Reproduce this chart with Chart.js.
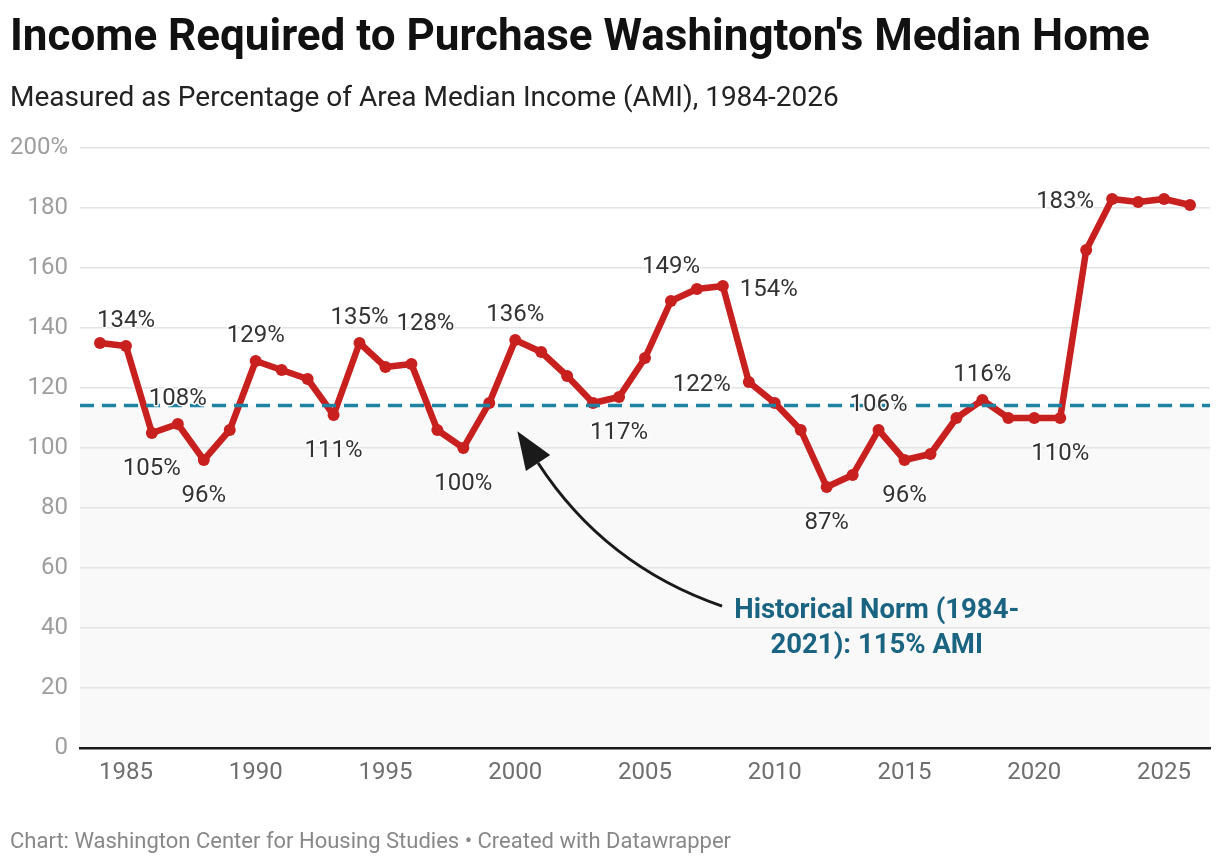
<!DOCTYPE html>
<html lang="en">
<head>
  <meta charset="UTF-8">
  <title>Income Required to Purchase Washington's Median Home</title>
  <style>
    body {
      margin: 0;
      background: #fff;
      font-family: Roboto, sans-serif;
    }
    .wrap {
      position: relative;
      width: 1220px;
      height: 864px;
    }
    #chart {
      position: absolute;
      left: 0;
      top: 0;
    }
    .title {
      position: absolute;
      left: 10px;
      top: 10px;
      font-size: 44px;
      line-height: 50px;
      font-weight: 700;
      color: #111;
      white-space: nowrap;
    }
    .subtitle {
      position: absolute;
      left: 10px;
      top: 81px;
      font-size: 28px;
      line-height: 32px;
      color: #222;
      white-space: nowrap;
    }
    .footer {
      position: absolute;
      left: 10px;
      top: 828px;
      font-size: 22px;
      line-height: 26px;
      color: #888;
      white-space: nowrap;
    }
  </style>
</head>
<body>
  <div class="wrap">
    <canvas id="chart" width="1220" height="864"></canvas>
    <div class="title">Income Required to Purchase Washington's Median Home</div>
    <div class="subtitle">Measured as Percentage of Area Median Income (AMI), 1984-2026</div>
    <div class="footer">Chart: Washington Center for Housing Studies • Created with Datawrapper</div>
  </div>

  <script src="https://cdn.jsdelivr.net/npm/chart.js"></script>
  <script>
    // data
    const years = [
      1984, 1985, 1986, 1987, 1988, 1989, 1990, 1991, 1992, 1993,
      1994, 1995, 1996, 1997, 1998, 1999, 2000, 2001, 2002, 2003,
      2004, 2005, 2006, 2007, 2008, 2009, 2010, 2011, 2012, 2013,
      2014, 2015, 2016, 2017, 2018, 2019, 2020, 2021, 2022, 2023,
      2024, 2025, 2026
    ];
    const incomePct = [
      135, 134, 105, 108, 96, 106, 129, 126, 123, 111,
      135, 127, 128, 106, 100, 115, 136, 132, 124, 115,
      117, 130, 149, 153, 154, 122, 115, 106, 87, 91,
      106, 96, 98, 110, 116, 110, 110, 110, 166, 183,
      182, 183, 181
    ];
    const xTickYears = [1985, 1990, 1995, 2000, 2005, 2010, 2015, 2020, 2025];
    const yTickValues = [0, 20, 40, 60, 80, 100, 120, 140, 160, 180, 200];
    const labelledYears = [
      1985, 1986, 1987, 1988, 1990, 1993, 1994, 1996, 1998, 2000,
      2004, 2006, 2008, 2009, 2012, 2014, 2015, 2018, 2021, 2023
    ];
    const normPct = 114.2;
    const noteLines = ['Historical Norm (1984-', '2021): 115% AMI'];

    // where each value label sits relative to its point (px)
    const labelPlace = {
      1985: 'above', 1986: 'below', 1987: 'above', 1988: 'below', 1990: 'above',
      1993: 'below', 1994: 'above', 1996: 'aboveRight', 1998: 'below', 2000: 'above',
      2004: 'below', 2006: 'high', 2008: 'right', 2009: 'left', 2012: 'below',
      2014: 'above', 2015: 'below', 2018: 'above', 2021: 'below', 2023: 'left'
    };
    const placeOffset = {
      above: [0, -28], below: [0, 33], left: [-47, 0], right: [46, 1],
      high: [0, -37], aboveRight: [14, -43]
    };

    // annotation anchors in data units (year, %)
    const notePos = { x: 2013.93, y: 43.3 };
    const arrowStart = { x: 2007.97, y: 47.3 };
    const arrowCtrl = { x: 2003.46, y: 60.7 };
    const arrowEnd = { x: 2000.88, y: 95.0 };

    const RED = '#c8201f';
    const TEAL = '#1f84a3';
    const NOTE = '#1a6482';

    const decor = {
      id: 'decor',
      beforeDraw(chart) {
        const { ctx, chartArea: a, scales: { y } } = chart;
        const top = y.getPixelForValue(normPct);
        const bottom = y.getPixelForValue(0);
        ctx.save();
        ctx.fillStyle = '#f9f9f9';
        ctx.fillRect(a.left, top, a.right - a.left, bottom - top);
        ctx.restore();
      },
      afterDatasetsDraw(chart) {
        const { ctx, chartArea: a, scales: { x, y } } = chart;
        ctx.save();

        // dashed norm line
        const ny = y.getPixelForValue(normPct);
        ctx.strokeStyle = TEAL;
        ctx.lineWidth = 3.5;
        ctx.setLineDash([14, 8]);
        ctx.beginPath();
        ctx.moveTo(a.left, ny);
        ctx.lineTo(a.right, ny);
        ctx.stroke();
        ctx.setLineDash([]);

        // value labels
        const fs = 24;
        ctx.font = fs + 'px Roboto';
        ctx.textAlign = 'center';
        ctx.textBaseline = 'alphabetic';
        ctx.lineJoin = 'round';
        labelledYears.forEach(yr => {
          const i = years.indexOf(yr);
          const off = placeOffset[labelPlace[yr]];
          const px = x.getPixelForValue(yr) + off[0];
          const py = y.getPixelForValue(incomePct[i]) + off[1] + fs * 0.355;
          const txt = incomePct[i] + '%';
          ctx.strokeStyle = '#fff';
          ctx.lineWidth = 3;
          ctx.strokeText(txt, px, py);
          ctx.fillStyle = '#333';
          ctx.fillText(txt, px, py);
        });

        // curved arrow
        const sx = x.getPixelForValue(arrowStart.x), sy = y.getPixelForValue(arrowStart.y);
        const cx = x.getPixelForValue(arrowCtrl.x), cy = y.getPixelForValue(arrowCtrl.y);
        const ex = x.getPixelForValue(arrowEnd.x), ey = y.getPixelForValue(arrowEnd.y);
        ctx.strokeStyle = '#1a1a1a';
        ctx.lineWidth = 3;
        ctx.beginPath();
        ctx.moveTo(sx, sy);
        ctx.quadraticCurveTo(cx, cy, ex, ey);
        ctx.stroke();
        let dx = ex - cx, dy = ey - cy;
        const len = Math.hypot(dx, dy);
        dx /= len; dy /= len;
        const headLen = 38, headHalf = 14.5;
        ctx.fillStyle = '#1a1a1a';
        ctx.beginPath();
        ctx.moveTo(ex + dx * headLen, ey + dy * headLen);
        ctx.lineTo(ex - dy * headHalf, ey + dx * headHalf);
        ctx.lineTo(ex + dy * headHalf, ey - dx * headHalf);
        ctx.closePath();
        ctx.fill();

        // note text
        ctx.font = 'bold 27.5px Roboto';
        ctx.fillStyle = NOTE;
        const tx = x.getPixelForValue(notePos.x);
        const ty = y.getPixelForValue(notePos.y);
        noteLines.forEach((line, k) => ctx.fillText(line, tx, ty + k * 35));

        ctx.restore();
      }
    };

    new Chart(document.getElementById('chart'), {
      type: 'line',
      data: {
        datasets: [{
          data: years.map((yr, i) => ({ x: yr, y: incomePct[i] })),
          borderColor: RED,
          backgroundColor: RED,
          borderWidth: 6.5,
          borderJoinStyle: 'round',
          borderCapStyle: 'round',
          pointRadius: 6,
          pointBorderWidth: 0,
          pointBackgroundColor: RED,
          tension: 0
        }]
      },
      options: {
        responsive: false,
        animation: false,
        layout: { padding: { left: 0, right: 10, top: 148, bottom: 66 } },
        plugins: {
          legend: { display: false },
          tooltip: { enabled: false }
        },
        scales: {
          x: {
            type: 'linear',
            min: 1983.23,
            max: 2026.77,
            afterBuildTicks: scale => {
              scale.ticks = xTickYears.map(v => ({ value: v }));
            },
            afterFit: scale => { scale.height = 50; },
            grid: { display: false, drawTicks: false },
            border: { display: true, color: '#1a1a1a', width: 2.5 },
            ticks: {
              padding: 11,
              color: '#6e6e6e',
              font: { family: 'Roboto', size: 24 },
              callback: v => String(v)
            }
          },
          y: {
            min: 0,
            max: 200,
            afterBuildTicks: scale => {
              scale.ticks = yTickValues.map(v => ({ value: v }));
            },
            afterFit: scale => { scale.width = 80; },
            grid: { color: '#e3e3e3', lineWidth: 1.5, drawTicks: false },
            border: { display: false },
            ticks: {
              padding: 12,
              color: '#9e9e9e',
              font: { family: 'Roboto', size: 24 },
              callback: v => v === 200 ? '200%' : String(v)
            }
          }
        }
      },
      plugins: [decor]
    });
  </script>
</body>
</html>
